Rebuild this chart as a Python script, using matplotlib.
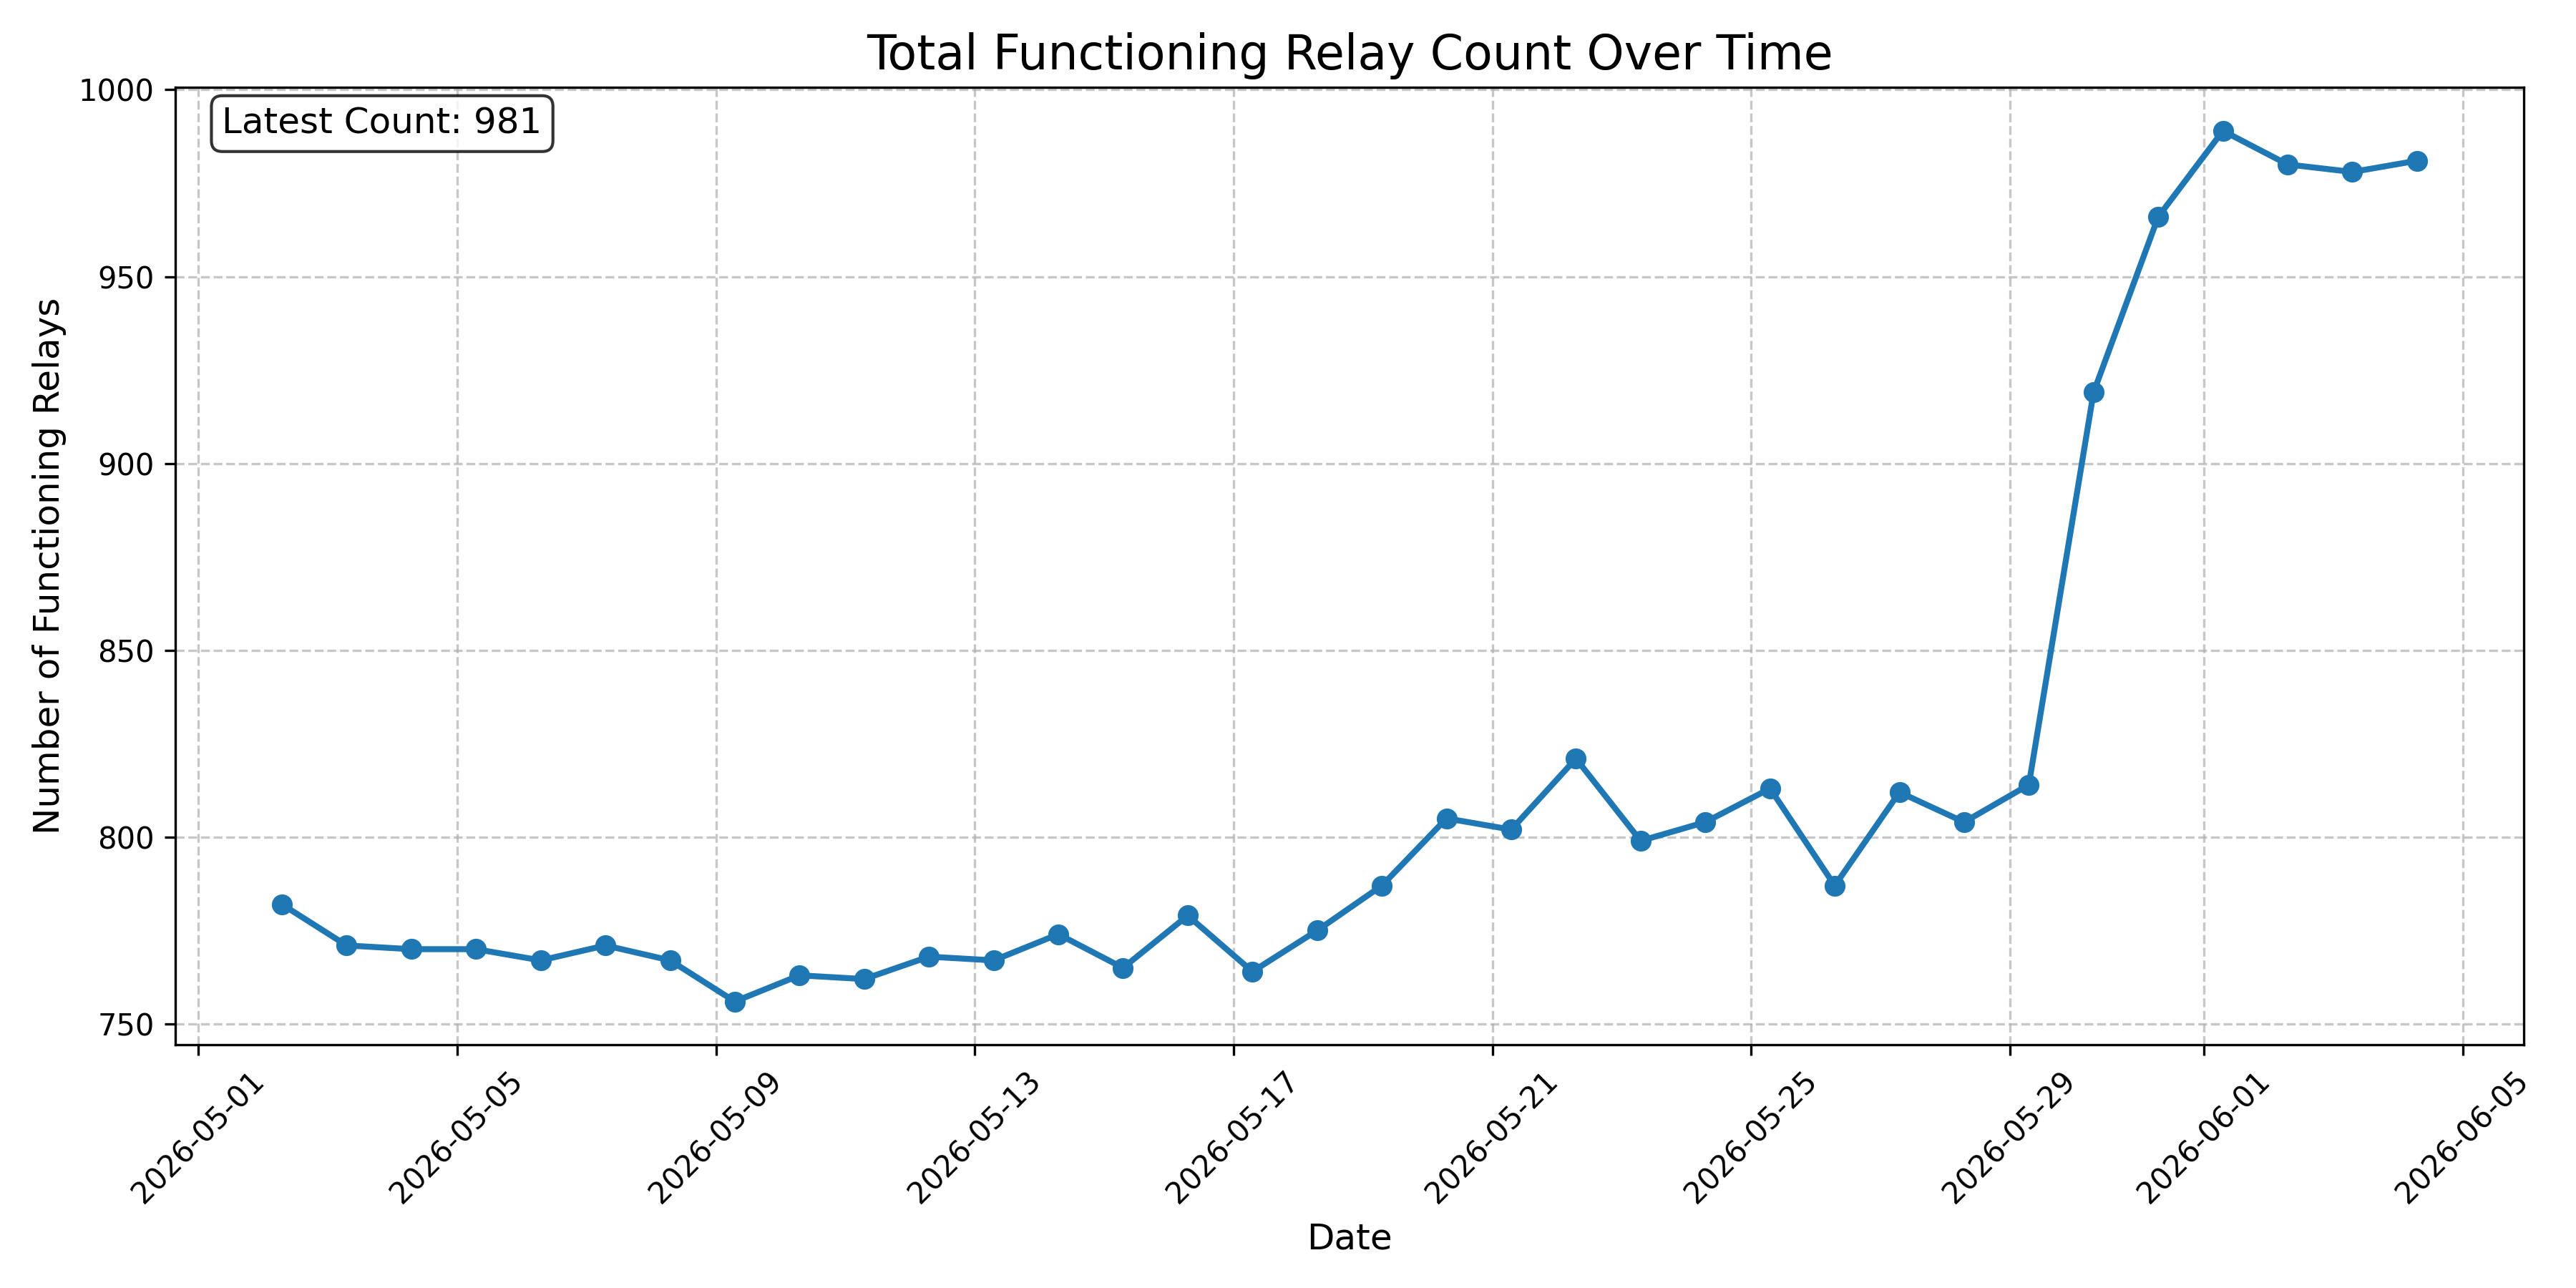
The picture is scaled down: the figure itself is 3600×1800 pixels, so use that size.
import matplotlib
matplotlib.use("Agg")
import matplotlib.pyplot as plt
import matplotlib.dates as mdates
import pandas as pd

start_date = "2026-05-02 07:00"
n_days = 34
counts = [782, 771, 770, 770, 767, 771, 767, 756, 763, 762,
          768, 767, 774, 765, 779, 764, 775, 787, 805, 802,
          821, 799, 804, 813, 787, 812, 804, 814, 919, 966,
          989, 980, 978, 981]

dates = pd.date_range(start=start_date, periods=n_days, freq="D")

fig, ax = plt.subplots(figsize=(12, 6), dpi=300)
ax.plot(dates, counts, marker="o", linestyle="-", linewidth=2, markersize=6, color="#1f77b4")
ax.set_title("Total Functioning Relay Count Over Time", fontsize=16)
ax.set_xlabel("Date", fontsize=12)
ax.set_ylabel("Number of Functioning Relays", fontsize=12)
ax.grid(True, linestyle="--", alpha=0.7)
ax.xaxis.set_major_locator(mdates.AutoDateLocator())
ax.xaxis.set_major_formatter(mdates.DateFormatter("%Y-%m-%d"))
plt.setp(ax.get_xticklabels(), rotation=45)
ax.text(0.02, 0.98, f"Latest Count: {counts[-1]}", transform=ax.transAxes,
        fontsize=12, va="top", ha="left",
        bbox=dict(boxstyle="round", facecolor="white", alpha=0.8))
fig.tight_layout()
fig.savefig("out.png", dpi=300)
